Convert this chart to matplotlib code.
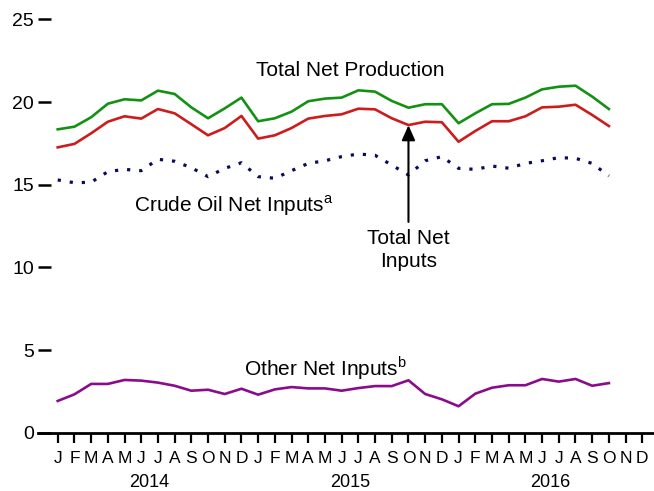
import matplotlib
matplotlib.use("Agg")
import matplotlib.pyplot as plt
import numpy as np

plt.rcParams['font.family'] = ['Liberation Sans', 'DejaVu Sans']

# monthly values, Jan 2014 - Oct 2016
total_production = [18.35, 18.51, 19.08, 19.90, 20.17, 20.10, 20.69, 20.49, 19.68, 19.02, 19.62, 20.27,
                    18.84, 19.02, 19.42, 20.05, 20.21, 20.27, 20.71, 20.63, 20.07, 19.66, 19.87, 19.87,
                    18.72, 19.32, 19.87, 19.89, 20.27, 20.77, 20.93, 20.99, 20.33, 19.58]
total_inputs = [17.26, 17.47, 18.11, 18.81, 19.14, 19.00, 19.58, 19.32, 18.66, 17.99, 18.43, 19.16,
                17.79, 17.99, 18.43, 19.00, 19.16, 19.26, 19.60, 19.56, 19.02, 18.61, 18.81, 18.78,
                17.60, 18.25, 18.84, 18.84, 19.14, 19.68, 19.72, 19.84, 19.22, 18.55]
crude_inputs = [15.29, 15.12, 15.15, 15.79, 15.93, 15.85, 16.54, 16.42, 16.03, 15.49, 15.99, 16.33,
                15.49, 15.39, 15.85, 16.29, 16.45, 16.70, 16.86, 16.78, 16.19, 15.59, 16.45, 16.70,
                15.99, 15.93, 16.13, 16.00, 16.29, 16.45, 16.64, 16.60, 16.29, 15.53]
other_inputs = [1.92, 2.32, 2.95, 2.95, 3.19, 3.15, 3.03, 2.84, 2.54, 2.60, 2.34, 2.66,
                2.30, 2.62, 2.76, 2.68, 2.68, 2.54, 2.70, 2.82, 2.82, 3.17, 2.34, 2.02,
                1.60, 2.36, 2.72, 2.87, 2.87, 3.25, 3.09, 3.25, 2.84, 3.00]

month_letters = ['J', 'F', 'M', 'A', 'M', 'J', 'J', 'A', 'S', 'O', 'N', 'D'] * 3
years = ['2014', '2015', '2016']

fig = plt.figure(figsize=(6.54, 4.91), dpi=100)
ax = fig.add_axes([38 / 654, 58.3 / 491, 616 / 654, 422.7 / 491])

x = np.arange(len(total_production))
ax.plot(x, total_production, color='#139113', lw=1.9)
ax.plot(x, total_inputs, color='#cc1c1c', lw=1.9)
ax.plot(x, crude_inputs, color='#0b0b5c', lw=2.3, linestyle=(0, (1, 2.8)))
ax.plot(x, other_inputs, color='#8b0c8b', lw=1.9)

ax.set_xlim(-1.18, 35.7)
ax.set_ylim(0, 25.57)

for s in ['top', 'right', 'left']:
    ax.spines[s].set_visible(False)
ax.spines['bottom'].set_linewidth(2)

ax.set_yticks([0, 5, 10, 15, 20, 25])
ax.tick_params(axis='y', direction='in', length=9, width=1.8, pad=3, labelsize=14)
ax.set_xticks(np.arange(36))
ax.set_xticklabels(month_letters)
ax.tick_params(axis='x', direction='out', length=7.5, width=1.6, pad=6, labelsize=12.5)

for i, yr in enumerate(years):
    ax.text(5.5 + 12 * i, -3.0, yr, ha='center', va='center', fontsize=13)

ax.text(17.5, 21.9, 'Total Net Production', ha='center', va='center', fontsize=15)
ax.text(10.56, 13.75, 'Crude Oil Net Inputs$^{\\mathregular{a}}$', ha='center', va='center', fontsize=15)
ax.text(21, 11.05, 'Total Net\nInputs', ha='center', va='center', fontsize=15, linespacing=1.3)
ax.text(16.0, 3.9, 'Other Net Inputs$^{\\mathregular{b}}$', ha='center', va='center', fontsize=15)

ax.annotate('', xy=(21, 18.6), xytext=(21, 12.75),
            arrowprops=dict(arrowstyle='-|>,head_length=0.9,head_width=0.4',
                            color='black', lw=1.5, shrinkA=0, shrinkB=0))

fig.savefig('out.png', dpi=100)
